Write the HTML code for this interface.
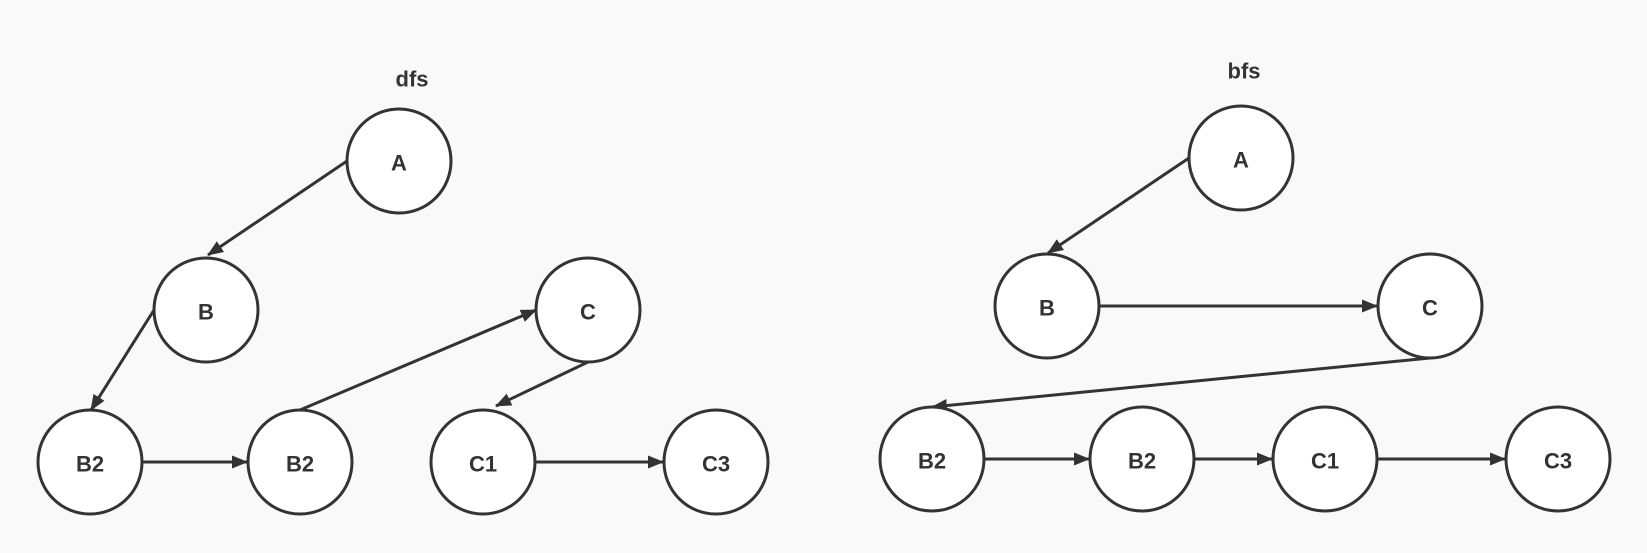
<!DOCTYPE html>
<html><head><style>
html,body{margin:0;padding:0;background:#f9f9f9;}
svg{display:block}
text{font-family:"Liberation Sans",sans-serif;font-weight:bold;font-size:22px;fill:#333;text-anchor:middle;dominant-baseline:central}
</style></head><body>
<svg width="1647" height="553" viewBox="0 0 1647 553">
<defs><marker id="ar" markerWidth="16" markerHeight="13" refX="15" refY="6.5" orient="auto" markerUnits="userSpaceOnUse"><path d="M0,0 L16,6.5 L0,13 Z" fill="#333"/></marker></defs>
<rect width="1647" height="553" fill="#f9f9f9"/>
<g stroke="#333" stroke-width="3" fill="none" marker-end="url(#ar)">
<line x1="347" y1="161" x2="208" y2="255"/>
<line x1="154" y1="310" x2="91" y2="410"/>
<line x1="142" y1="462" x2="247" y2="462"/>
<line x1="300" y1="410" x2="536" y2="310"/>
<line x1="588" y1="362" x2="496" y2="406"/>
<line x1="535" y1="462" x2="663" y2="462"/>
<line x1="1189" y1="158" x2="1048" y2="253"/>
<line x1="1099" y1="306" x2="1377" y2="306"/>
<line x1="1430" y1="358" x2="932" y2="407"/>
<line x1="984" y1="459" x2="1089" y2="459"/>
<line x1="1194" y1="459" x2="1272" y2="459"/>
<line x1="1377" y1="459" x2="1505" y2="459"/>
</g>
<g stroke="#333" stroke-width="3" fill="#fff">
<circle cx="399" cy="161" r="52"/>
<circle cx="206" cy="310" r="52"/>
<circle cx="588" cy="310" r="52"/>
<circle cx="90" cy="462" r="52"/>
<circle cx="300" cy="462" r="52"/>
<circle cx="483" cy="462" r="52"/>
<circle cx="716" cy="462" r="52"/>
<circle cx="1241" cy="158" r="52"/>
<circle cx="1047" cy="306" r="52"/>
<circle cx="1430" cy="306" r="52"/>
<circle cx="932" cy="459" r="52"/>
<circle cx="1142" cy="459" r="52"/>
<circle cx="1325" cy="459" r="52"/>
<circle cx="1558" cy="459" r="52"/>
</g>
<text x="412" y="79">dfs</text>
<text x="399" y="163">A</text>
<text x="206" y="312">B</text>
<text x="588" y="312">C</text>
<text x="90" y="464">B2</text>
<text x="300" y="464">B2</text>
<text x="483" y="464">C1</text>
<text x="716" y="464">C3</text>
<text x="1244" y="71">bfs</text>
<text x="1241" y="160">A</text>
<text x="1047" y="308">B</text>
<text x="1430" y="308">C</text>
<text x="932" y="461">B2</text>
<text x="1142" y="461">B2</text>
<text x="1325" y="461">C1</text>
<text x="1558" y="461">C3</text>
</svg>
</body></html>
